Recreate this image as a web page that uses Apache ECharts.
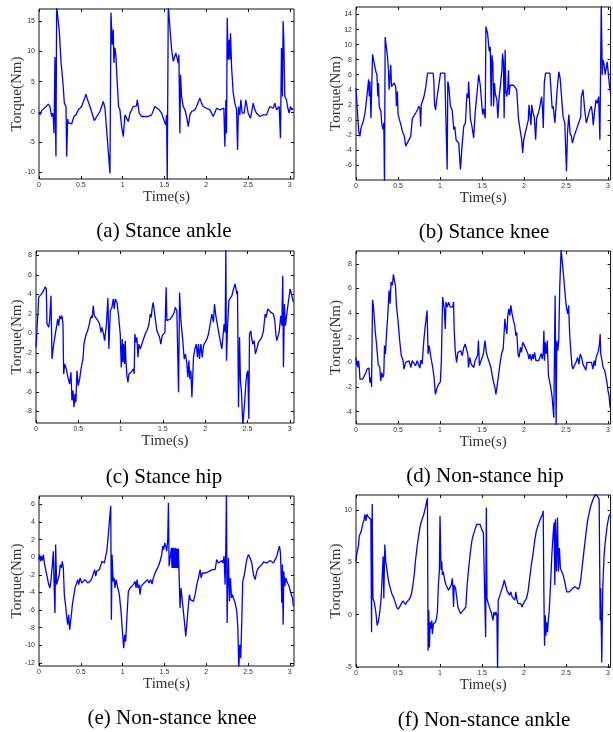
<!DOCTYPE html>
<html>
<head>
<meta charset="utf-8">
<script src="https://cdn.jsdelivr.net/npm/echarts@6/dist/echarts.min.js"></script>
<style>
  html, body { margin: 0; padding: 0; background: #fff; }
  #chart { width: 613px; height: 732px; }
</style>
</head>
<body>
<div id="chart"></div>
<script>
// Joint torque traces, [time (s), torque (Nm)]
const stanceAnkle = [
  [0,0],[0.012,-0.5],[0.032,0.2],[0.112,1.27],[0.131,0.88],[0.151,-0.77],[0.163,-0.22],[0.171,-1.05],
  [0.179,-3.54],[0.183,0.06],[0.191,9.06],[0.199,-3.54],[0.203,-7.4],[0.211,17.5],[0.243,13.3],[0.263,8.3],
  [0.283,5.3],[0.291,3.9],[0.303,1.44],[0.315,1.7],[0.323,0.88],[0.331,-7.4],[0.343,-1.2],[0.351,-1.77],
  [0.390,-2],[0.410,-1.9],[0.418,-0.77],[0.442,-0.5],[0.470,0.33],[0.510,0.88],[0.562,2.93],[0.578,2.1],
  [0.610,0.88],[0.661,-1.44],[0.729,0.06],[0.769,1.71],[0.789,0.6],[0.809,0.33],[0.849,-10.2],[0.861,16.4],
  [0.876,11.1],[0.888,13.6],[0.896,8.07],[0.908,10.6],[0.920,9.2],[0.936,4.75],[0.952,0.88],[0.968,0.33],
  [0.988,-2.43],[1.008,-4.09],[1.028,-0.5],[1.040,-0.77],[1.068,-1.6],[1.088,-0.22],[1.108,0.33],[1.127,0.88],
  [1.147,0.77],[1.167,1.0],[1.175,2.0],[1.187,1.71],[1.199,-0.22],[1.227,-0.77],[1.247,-1.05],[1.307,-0.77],
  [1.347,-0.5],[1.386,0.88],[1.406,0.6],[1.438,0.33],[1.466,-0.22],[1.486,0.06],[1.514,-2.15],[1.526,-0.5],
  [1.534,-11.6],[1.546,17.5],[1.586,10.3],[1.606,8.34],[1.637,9.72],[1.665,8.07],[1.673,9.45],[1.685,-3.54],
  [1.693,6.13],[1.705,2.54],[1.725,0.88],[1.745,0.33],[1.765,-0.77],[1.785,-2.43],[1.805,-0.5],[1.825,0.06],
  [1.845,0.06],[1.865,0.33],[1.884,0.88],[1.924,2.27],[1.944,1.44],[1.964,0.88],[2.004,0.6],[2.044,0.33],
  [2.084,-0.77],[2.124,0.6],[2.163,0.33],[2.211,0.6],[2.223,-5.75],[2.235,2.0],[2.243,-3.54],[2.251,15.5],
  [2.263,8.6],[2.275,11.9],[2.283,8.6],[2.291,13.0],[2.303,7.5],[2.323,3.1],[2.343,1.44],[2.363,0.33],
  [2.375,-6.3],[2.386,0.88],[2.402,-0.5],[2.414,2.0],[2.430,-0.22],[2.454,-0.22],[2.474,2.0],[2.490,2.27],
  [2.502,-0.22],[2.530,-1.05],[2.562,1.44],[2.582,0.33],[2.602,-0.22],[2.622,-0.5],[2.641,-0.77],[2.681,-0.5],
  [2.721,-0.5],[2.761,0.88],[2.801,0.6],[2.821,1.44],[2.841,0.33],[2.873,0.88],[2.888,-4.36],[2.900,10.55],
  [2.912,2.54],[2.920,15.0],[2.928,11.9],[2.940,2.54],[2.960,2.0],[2.972,0.88],[2.992,-0.22],[3.008,0.88],
  [3.024,0.33],[3.040,0.6]
];

const stanceKnee = [
  [0,4.2],[0.012,4.0],[0.032,-1.55],[0.047,-2.2],[0.059,-1.1],[0.087,-0.2],[0.110,1.1],[0.118,0.9],
  [0.138,4.0],[0.150,5.4],[0.158,3.1],[0.166,5.1],[0.178,0.2],[0.185,0.1],[0.197,8.7],[0.217,7.5],
  [0.237,6.4],[0.249,6.0],[0.260,3.1],[0.268,4.9],[0.276,1.8],[0.296,1.1],[0.308,-0.7],[0.323,-1.3],
  [0.331,-0.4],[0.339,-8.5],[0.347,11.0],[0.363,9.5],[0.375,8.4],[0.387,6.6],[0.394,4.0],[0.402,5.3],
  [0.414,7.3],[0.422,4.4],[0.442,4.6],[0.454,4.9],[0.473,4.4],[0.481,1.8],[0.493,3.8],[0.501,0.7],
  [0.521,0.9],[0.540,-0.9],[0.552,-1.55],[0.564,-1.4],[0.576,-2.2],[0.592,-3.5],[0.651,-2.2],[0.671,0.2],
  [0.678,0.4],[0.710,0.9],[0.730,1.3],[0.749,1.8],[0.761,1.5],[0.769,-0.9],[0.777,2.0],[0.797,2.2],
  [0.809,3.1],[0.828,4.2],[0.852,6.2],[0.876,6.2],[0.919,6.2],[0.927,4.9],[0.935,2.0],[0.947,1.3],
  [0.955,2.2],[0.978,4.0],[1.006,6.2],[1.057,6.2],[1.077,6.0],[1.085,-6.6],[1.093,5.1],[1.105,4.4],
  [1.124,1.8],[1.144,1.3],[1.164,-1.3],[1.176,-0.9],[1.191,-2.65],[1.207,-2.9],[1.223,-3.1],[1.243,-6.6],
  [1.262,-3.5],[1.282,-0.9],[1.302,-0.4],[1.321,3.5],[1.333,2.9],[1.341,5.1],[1.361,0.2],[1.381,-0.9],
  [1.400,-2.4],[1.420,1.1],[1.440,3.5],[1.460,6.0],[1.479,4.6],[1.499,1.8],[1.507,0.7],[1.519,1.5],
  [1.538,0.2],[1.546,12.4],[1.566,11.5],[1.586,9.1],[1.598,9.7],[1.609,1.8],[1.617,8.6],[1.629,7.5],
  [1.637,1.8],[1.649,4.9],[1.657,3.5],[1.677,2.65],[1.688,0.2],[1.704,3.1],[1.716,4.2],[1.736,6.6],
  [1.744,8.8],[1.755,7.7],[1.763,0.2],[1.775,9.3],[1.783,3.75],[1.795,3.1],[1.807,4.4],[1.815,6.6],
  [1.822,3.3],[1.834,4.6],[1.874,4.6],[1.913,4.0],[1.933,0.2],[1.953,-1.3],[1.972,-2.65],[1.984,-4.4],
  [1.996,-2.65],[2.032,-0.9],[2.051,0],[2.059,2.0],[2.071,1.8],[2.083,-0.7],[2.091,2.0],[2.107,0.9],
  [2.122,0.4],[2.138,-2.65],[2.150,0.2],[2.170,0.9],[2.189,1.8],[2.209,3.1],[2.221,1.3],[2.229,-1.1],
  [2.241,4.9],[2.256,6.2],[2.308,6.2],[2.320,6.0],[2.335,1.5],[2.347,1.8],[2.367,-0.4],[2.394,4.0],
  [2.414,6.4],[2.430,5.5],[2.446,3.1],[2.465,0.4],[2.485,-0.4],[2.505,-6.85],[2.517,-1.8],[2.533,0.7],
  [2.548,-1.8],[2.564,-2.2],[2.576,-3.1],[2.596,-2.2],[2.623,-1.3],[2.651,-0.4],[2.675,0.4],[2.682,3.1],
  [2.702,4.0],[2.722,1.3],[2.742,-0.4],[2.761,0.4],[2.781,1.3],[2.801,1.8],[2.813,0.9],[2.824,-0.7],
  [2.840,1.1],[2.856,2.65],[2.872,2.2],[2.888,3.1],[2.903,-2.65],[2.919,15.5],[2.931,6.0],[2.939,8.0],
  [2.951,7.5],[2.966,6.0],[2.990,7.7],[3.006,7.7],[3.018,4.4],[3.030,3.5]
];

const stanceHip = [
  [0,-1.44],[0.012,0.44],[0.024,2.32],[0.031,3.69],[0.043,3.52],[0.051,3.86],[0.071,4.1],[0.098,4.55],
  [0.110,4.79],[0.122,4.55],[0.130,0.96],[0.150,0.62],[0.161,1.3],[0.177,3.86],[0.189,-2.63],[0.201,-2.8],
  [0.209,-1.1],[0.228,-0.07],[0.248,0.96],[0.256,1.47],[0.268,0.79],[0.280,1.81],[0.295,1.47],[0.307,1.81],
  [0.319,0.96],[0.327,-4.17],[0.339,-3.15],[0.358,-3.66],[0.378,-4.51],[0.398,-5.2],[0.413,-4.0],[0.425,-6.9],
  [0.437,-5.88],[0.449,-7.59],[0.461,-6.22],[0.472,-7.08],[0.484,-3.83],[0.500,-5.37],[0.516,-4.68],[0.535,-3.49],
  [0.555,-2.63],[0.567,-1.1],[0.579,-0.58],[0.594,-0.07],[0.610,0.27],[0.626,0.79],[0.642,1.47],[0.657,1.81],
  [0.665,1.57],[0.677,2.84],[0.689,1.81],[0.709,1.64],[0.732,1.3],[0.752,0.96],[0.768,0.1],[0.780,0.62],
  [0.799,-0.07],[0.811,-0.75],[0.831,0.79],[0.850,3.62],[0.862,-1.6],[0.878,2.32],[0.898,2.67],[0.913,3.52],
  [0.925,2.5],[0.937,3.52],[0.957,3.18],[0.976,1.81],[0.996,-0.07],[1.008,-3.49],[1.020,-0.58],[1.028,-2.97],
  [1.035,-1.1],[1.047,-3.15],[1.055,-0.75],[1.063,-2.8],[1.075,-4.34],[1.087,-5.03],[1.098,-4.17],[1.122,-4.0],
  [1.154,-3.66],[1.161,-4.17],[1.169,-0.07],[1.181,-0.92],[1.193,-0.41],[1.205,-2.46],[1.217,-1.1],[1.232,-1.6],
  [1.252,-1.44],[1.291,-0.07],[1.319,0.44],[1.335,0.96],[1.350,1.98],[1.362,1.64],[1.374,2.67],[1.386,3.18],
  [1.398,2.32],[1.413,1.3],[1.429,0.27],[1.445,0.44],[1.461,-0.41],[1.476,-1.1],[1.492,-0.24],[1.508,-0.07],
  [1.524,0.1],[1.539,4.72],[1.547,1.3],[1.587,1.47],[1.614,1.81],[1.634,2.15],[1.646,2.67],[1.665,2.32],
  [1.685,-6.05],[1.697,4.2],[1.713,1.3],[1.732,-0.41],[1.752,-2.63],[1.768,-2.12],[1.783,-3.15],[1.795,-4.51],
  [1.807,-2.8],[1.819,-4.68],[1.831,-3.83],[1.843,-6.56],[1.862,-2.46],[1.878,-1.6],[1.894,-1.1],[1.909,-2.46],
  [1.921,-1.1],[1.933,-2.63],[1.949,-1.1],[1.965,-2.46],[1.980,-1.26],[2.000,-1.1],[2.020,-0.58],[2.039,-0.07],
  [2.059,0.96],[2.079,1.98],[2.098,1.13],[2.110,3.01],[2.126,1.81],[2.146,0.79],[2.177,-0.75],[2.197,-1.6],
  [2.209,-0.41],[2.224,0.96],[2.236,0.1],[2.244,8.6],[2.252,-2.8],[2.264,0.62],[2.280,3.35],[2.295,3.18],
  [2.315,3.86],[2.335,4.55],[2.354,5.06],[2.374,4.03],[2.382,4.38],[2.394,-7.59],[2.406,-0.41],[2.417,-4.85],
  [2.429,-6.05],[2.445,-9.4],[2.465,-7.25],[2.480,-5.2],[2.492,-4.17],[2.504,-3.83],[2.516,-8.79],[2.524,-0.07],
  [2.539,0.27],[2.551,-0.58],[2.563,-1.1],[2.579,-0.75],[2.594,-2.12],[2.610,-1.6],[2.630,-0.92],[2.650,-0.75],
  [2.669,-0.41],[2.689,0.27],[2.709,1.98],[2.720,1.64],[2.740,2.5],[2.756,2.32],[2.776,2.15],[2.807,1.98],
  [2.823,1.3],[2.835,-0.07],[2.846,-0.75],[2.858,-0.58],[2.874,0.1],[2.894,1.81],[2.906,0.79],[2.917,5.91],
  [2.925,-3.49],[2.937,3.01],[2.949,0.79],[2.965,1.98],[2.980,3.01],[3.004,4.55],[3.024,4.38],[3.043,3.18]
];

const nonStanceHip = [
  [0,0.41],[0.008,-0.27],[0.016,0.14],[0.024,-0.41],[0.031,0.14],[0.039,-0.41],[0.047,-1.36],[0.079,-1.36],
  [0.098,-1.22],[0.118,-0.82],[0.130,-0.54],[0.142,-0.68],[0.154,-0.46],[0.165,-1.63],[0.177,-1.22],[0.185,-1.99],
  [0.197,5.09],[0.209,4.49],[0.228,2.59],[0.244,1.5],[0.264,-0.14],[0.283,-0.41],[0.295,-1.5],[0.307,-0.82],
  [0.319,-1.22],[0.331,-0.95],[0.339,1.36],[0.350,0.68],[0.362,2.18],[0.378,3.81],[0.394,5.85],[0.406,4.76],
  [0.417,6.53],[0.433,6.26],[0.445,7.16],[0.457,6.67],[0.469,6.26],[0.480,4.76],[0.500,3.4],[0.520,1.77],
  [0.539,0.54],[0.559,0.19],[0.571,-0.54],[0.591,0],[0.610,0],[0.630,0.14],[0.642,0.27],[0.654,-0.41],
  [0.669,0.14],[0.689,0.19],[0.709,-0.27],[0.728,0.14],[0.748,0.19],[0.760,-0.46],[0.772,0.19],[0.787,-0.14],
  [0.807,1.77],[0.827,3.13],[0.846,4.22],[0.858,0.68],[0.870,1.36],[0.886,1.36],[0.898,0.14],[0.913,-0.41],
  [0.929,-1.22],[0.945,-2.59],[0.965,-2.04],[0.984,-1.77],[1.004,-1.58],[1.016,0.14],[1.031,5.31],[1.051,4.35],
  [1.063,2.72],[1.071,4.9],[1.087,4.49],[1.102,4.9],[1.122,4.49],[1.150,4.49],[1.161,4.9],[1.169,2.59],
  [1.181,0.95],[1.197,0],[1.213,0.82],[1.228,0.68],[1.248,0.95],[1.264,0.54],[1.283,1.22],[1.299,1.5],
  [1.319,1.63],[1.331,0.68],[1.339,-0.41],[1.354,0.41],[1.370,-0.14],[1.386,0],[1.402,-0.41],[1.417,0.14],
  [1.437,0.41],[1.449,0.68],[1.457,1.77],[1.469,-0.27],[1.480,0],[1.496,0.27],[1.516,0.68],[1.535,1.77],
  [1.551,0.82],[1.567,0.41],[1.583,0.27],[1.606,-0.41],[1.622,-1.09],[1.638,-1.63],[1.654,-2.04],[1.665,-2.59],
  [1.677,-2.04],[1.693,-1.22],[1.713,-0.14],[1.732,0.68],[1.752,1.09],[1.772,3.54],[1.783,2.86],[1.795,2.31],
  [1.807,3.81],[1.819,4.35],[1.831,3.81],[1.843,4.63],[1.858,3.95],[1.874,3.4],[1.890,2.99],[1.902,2.18],
  [1.913,2.45],[1.929,0.68],[1.941,0.41],[1.957,1.22],[1.969,0.82],[1.984,1.63],[2.000,1.5],[2.016,1.22],
  [2.031,0.95],[2.047,0.68],[2.059,0.27],[2.071,0.68],[2.087,0.14],[2.102,0.68],[2.114,0.27],[2.126,0.82],
  [2.142,0.14],[2.157,0.27],[2.173,0.14],[2.189,0.27],[2.205,0.73],[2.217,0.27],[2.228,0.68],[2.236,2.59],
  [2.244,0.14],[2.252,1.63],[2.264,0.68],[2.276,1.77],[2.291,-1.09],[2.315,-1.9],[2.335,-2.86],[2.354,-4.49],
  [2.370,5.44],[2.382,-5.2],[2.390,1.77],[2.402,0.95],[2.413,1.77],[2.425,6.12],[2.441,9.2],[2.453,8.3],
  [2.472,6.94],[2.488,5.58],[2.504,4.49],[2.520,3.95],[2.531,4.63],[2.543,2.31],[2.559,0.68],[2.571,-0.27],
  [2.583,-0.54],[2.598,-0.27],[2.618,0],[2.638,0.41],[2.654,-0.14],[2.669,0.68],[2.685,0.41],[2.701,-0.14],
  [2.717,0],[2.736,-0.63],[2.748,0],[2.776,0],[2.803,0],[2.819,-0.54],[2.835,0.14],[2.846,-0.27],
  [2.858,0.41],[2.874,0.27],[2.886,0.95],[2.898,1.5],[2.906,2.31],[2.913,0.68],[2.925,0.27],[2.941,-0.41],
  [2.961,-0.68],[2.984,-1.5],[3.000,-2.31],[3.012,-2.72],[3.024,-3.67]
];

const nonStanceKnee = [
  [0,-0.27],[0.008,0.3],[0.016,-0.46],[0.028,0.11],[0.040,-0.38],[0.052,0.3],[0.064,-0.65],[0.084,-1.6],
  [0.100,-2.35],[0.116,-3.11],[0.132,-3.49],[0.144,-2.54],[0.160,-0.84],[0.172,0.68],[0.180,-2.92],[0.191,-6.34],
  [0.199,1.44],[0.211,-3.11],[0.227,-2.92],[0.243,-1.97],[0.255,-0.84],[0.267,-1.22],[0.279,-0.46],[0.291,-1.22],
  [0.303,-4.25],[0.319,-5.58],[0.331,-6.72],[0.343,-7.67],[0.355,-6.53],[0.367,-8.24],[0.383,-6.91],[0.399,-5.39],
  [0.415,-4.44],[0.431,-3.49],[0.447,-3.3],[0.463,-2.54],[0.475,-3.11],[0.491,-2.35],[0.511,-2.92],[0.531,-2.73],
  [0.550,-2.54],[0.570,-2.35],[0.582,-2.92],[0.598,-2.73],[0.618,-2.66],[0.634,-2.35],[0.650,-2.16],[0.666,-1.41],
  [0.678,-2.16],[0.690,-1.6],[0.706,-1.79],[0.722,-1.41],[0.738,-1.22],[0.754,-0.46],[0.770,-0.27],[0.782,-0.65],
  [0.794,-0.08],[0.810,0.68],[0.826,2.2],[0.842,4.1],[0.858,5.81],[0.866,-7.1],[0.874,0.3],[0.886,-2.73],
  [0.898,-2.35],[0.909,-3.49],[0.921,-2.54],[0.941,-2.73],[0.961,-4.25],[0.981,-6.15],[1.001,-8.81],[1.013,-10.33],
  [1.025,-8.81],[1.037,-9.57],[1.053,-6.53],[1.069,-3.87],[1.089,-3.49],[1.109,-3.3],[1.129,-3.11],[1.149,-2.73],
  [1.161,-3.49],[1.173,-2.54],[1.185,-3.49],[1.197,-3.11],[1.209,-4.25],[1.221,-3.3],[1.237,-3.3],[1.257,-2.92],
  [1.276,-2.73],[1.296,-2.54],[1.316,-2.92],[1.336,-2.54],[1.352,-3.04],[1.368,-2.35],[1.388,-1.79],[1.408,-1.41],
  [1.428,-1.03],[1.448,-0.46],[1.468,0.3],[1.480,1.25],[1.492,0.87],[1.504,1.63],[1.516,1.25],[1.528,0.68],
  [1.540,2.01],[1.548,6.19],[1.556,-1.03],[1.576,-1.14],[1.584,1.06],[1.590,-1.2],[1.596,1.06],[1.602,-1.22],
  [1.608,1.06],[1.614,-1.22],[1.620,1.0],[1.626,-1.22],[1.631,1.06],[1.637,-1.22],[1.643,1.0],[1.649,-1.22],
  [1.655,0.99],[1.661,-1.22],[1.667,0.95],[1.675,0.87],[1.687,-5.77],[1.699,-3.49],[1.711,-4.63],[1.727,-6.15],
  [1.739,-7.29],[1.755,-9.0],[1.771,-7.29],[1.787,-5.39],[1.799,-4.25],[1.811,-4.82],[1.827,-4.63],[1.847,-5.01],
  [1.867,-4.25],[1.887,-3.11],[1.907,-2.35],[1.927,-1.41],[1.939,-2.35],[1.955,-1.79],[1.974,-1.97],[1.994,-1.79],
  [2.014,-1.79],[2.034,-1.6],[2.054,-1.41],[2.074,-1.41],[2.094,-1.22],[2.106,-1.41],[2.126,-0.27],[2.146,-0.65],
  [2.166,-0.46],[2.186,-0.38],[2.198,-0.65],[2.214,0.11],[2.226,-3.11],[2.234,0.87],[2.242,7.2],[2.250,-7.48],
  [2.258,-2.73],[2.266,-0.08],[2.278,-5.01],[2.290,-2.35],[2.302,-4.63],[2.314,-4.25],[2.326,-4.63],[2.346,-5.2],
  [2.366,-6.15],[2.378,-8.05],[2.390,-12.6],[2.401,-9.95],[2.413,-11.47],[2.425,-7.29],[2.437,-2.73],[2.453,-2.16],
  [2.469,-1.22],[2.485,-0.27],[2.505,0.3],[2.525,-0.08],[2.545,-0.65],[2.565,-1.97],[2.585,-2.54],[2.605,-1.6],
  [2.625,-1.22],[2.645,-1.03],[2.665,-0.84],[2.685,-0.53],[2.705,-0.46],[2.724,-0.65],[2.744,-0.46],[2.764,-0.38],
  [2.784,-0.53],[2.804,-0.65],[2.824,-0.27],[2.844,0.11],[2.864,0.87],[2.876,1.25],[2.888,0.49],[2.896,-1.97],
  [2.904,-5.2],[2.912,-0.84],[2.920,-7.67],[2.928,-1.6],[2.940,-3.3],[2.952,-2.35],[2.972,-2.92],[2.992,-3.3],
  [3.012,-4.06],[3.032,-4.63],[3.043,-5.58]
];

const nonStanceAnkle = [
  [0,5.1],[0.008,5.74],[0.020,6.23],[0.031,6.71],[0.039,7.52],[0.051,7.35],[0.063,8.0],[0.079,8.65],
  [0.094,9.03],[0.106,9.61],[0.118,8.97],[0.130,9.61],[0.146,9.35],[0.161,9.19],[0.177,9.13],[0.185,-1.68],
  [0.193,10.58],[0.201,1.55],[0.217,1.23],[0.236,0.26],[0.252,-1.03],[0.268,-0.55],[0.283,0.26],[0.299,1.55],
  [0.311,3.48],[0.323,5.58],[0.331,1.55],[0.343,6.71],[0.354,5.1],[0.366,4.45],[0.382,3.48],[0.398,2.84],
  [0.409,2.52],[0.425,2.03],[0.445,1.71],[0.465,1.23],[0.484,0.74],[0.500,0.52],[0.520,0.74],[0.539,1.06],
  [0.559,1.32],[0.575,1.23],[0.591,0.97],[0.606,1.23],[0.622,1.16],[0.642,1.55],[0.661,2.03],[0.677,2.84],
  [0.693,3.81],[0.709,5.26],[0.728,6.55],[0.748,7.68],[0.768,8.65],[0.787,9.13],[0.807,9.61],[0.827,10.26],
  [0.839,10.74],[0.850,11.16],[0.858,-3.45],[0.866,0.42],[0.874,-3.13],[0.882,-0.71],[0.894,-1.35],[0.902,-0.55],
  [0.909,-1.84],[0.921,-0.87],[0.933,-1.03],[0.945,-0.71],[0.957,-0.39],[0.969,0.26],[0.980,2.84],[0.992,4.13],
  [1.000,9.45],[1.012,4.29],[1.020,5.1],[1.028,3.81],[1.039,4.13],[1.055,3.32],[1.071,2.84],[1.087,2.68],
  [1.102,2.35],[1.118,2.52],[1.134,2.84],[1.146,3.48],[1.154,2.52],[1.161,0.74],[1.169,2.84],[1.185,2.52],
  [1.201,1.55],[1.213,0.74],[1.228,0.58],[1.244,0.1],[1.260,0.1],[1.276,0.42],[1.291,0.58],[1.307,0.74],
  [1.323,2.84],[1.339,4.29],[1.358,5.74],[1.378,7.03],[1.398,7.68],[1.417,8.16],[1.437,8.65],[1.457,8.81],
  [1.476,8.65],[1.496,8.16],[1.516,7.84],[1.535,7.84],[1.543,-2.16],[1.551,10.26],[1.559,1.55],[1.575,1.06],
  [1.594,0.58],[1.614,0.1],[1.630,-0.55],[1.642,0.26],[1.654,-0.06],[1.665,0.26],[1.677,-0.06],[1.685,-5.3],
  [1.693,1.39],[1.713,1.87],[1.732,2.35],[1.752,2.84],[1.764,3.32],[1.780,2.84],[1.795,2.35],[1.811,2.19],
  [1.827,1.87],[1.843,2.19],[1.858,1.71],[1.874,1.55],[1.890,1.39],[1.902,2.19],[1.913,1.55],[1.929,1.06],
  [1.945,0.9],[1.961,1.06],[1.976,0.74],[1.992,1.06],[2.008,1.23],[2.028,1.55],[2.047,2.19],[2.067,3.48],
  [2.087,4.77],[2.106,5.74],[2.126,7.03],[2.146,8.0],[2.165,8.48],[2.185,8.97],[2.205,9.35],[2.220,9.61],
  [2.228,9.94],[2.236,2.19],[2.244,-2.97],[2.252,-0.06],[2.260,-2.0],[2.268,-0.71],[2.280,-1.68],[2.287,-0.71],
  [2.299,0.26],[2.315,2.84],[2.331,5.74],[2.346,7.68],[2.358,8.81],[2.366,2.84],[2.374,9.13],[2.386,4.13],
  [2.398,9.29],[2.409,4.13],[2.421,6.39],[2.433,4.45],[2.449,4.29],[2.465,3.81],[2.480,3.32],[2.496,3.16],
  [2.508,2.19],[2.520,2.03],[2.539,2.19],[2.559,2.13],[2.579,2.52],[2.591,2.35],[2.606,2.68],[2.626,2.52],
  [2.646,2.45],[2.661,2.68],[2.677,3.48],[2.697,4.94],[2.717,6.39],[2.736,7.68],[2.756,8.97],[2.776,9.77],
  [2.795,10.42],[2.815,10.9],[2.835,11.29],[2.854,11.55],[2.874,11.39],[2.894,11.06],[2.906,-0.55],[2.913,2.52],
  [2.925,-4.58],[2.937,2.52],[2.953,5.74],[2.972,7.35],[2.992,8.65],[3.012,9.45],[3.024,9.61]
];

// Tick values
const timeTicks = [0, 0.5, 1, 1.5, 2, 2.5, 3];
const ankleTicks = [-10, -5, 0, 5, 10, 15];
const kneeTicks = [-6, -4, -2, 0, 2, 4, 6, 8, 10, 12, 14];
const hipTicks = [-8, -6, -4, -2, 0, 2, 4, 6, 8];
const nsHipTicks = [-4, -2, 0, 2, 4, 6, 8];
const nsKneeTicks = [-12, -10, -8, -6, -4, -2, 0, 2, 4, 6];
const nsAnkleTicks = [-5, 0, 5, 10];

// Axis extents [min, max]
const ankleRange = [-11.1, 17];
const kneeRange = [-8, 15];
const hipRange = [-9.2, 8.45];
const nsHipRange = [-5, 9.05];
const nsKneeRange = [-12.35, 6.95];
const nsAnkleRange = [-5, 11.45];
const timeMaxLeft = 3.05;
const timeMaxRight = 3.03;

const captions = ['(a) Stance ankle', '(b) Stance knee', '(c) Stance hip',
                  '(d) Non-stance hip', '(e) Non-stance knee', '(f) Non-stance ankle'];
const yTitle = 'Torque(Nm)';
const xTitle = 'Time(s)';

const panels = [
  { data: stanceAnkle,    ticks: ankleTicks,   range: ankleRange,   tmax: timeMaxLeft },
  { data: stanceKnee,     ticks: kneeTicks,    range: kneeRange,    tmax: timeMaxRight },
  { data: stanceHip,      ticks: hipTicks,     range: hipRange,     tmax: timeMaxLeft },
  { data: nonStanceHip,   ticks: nsHipTicks,   range: nsHipRange,   tmax: timeMaxRight },
  { data: nonStanceKnee,  ticks: nsKneeTicks,  range: nsKneeRange,  tmax: timeMaxLeft },
  { data: nonStanceAnkle, ticks: nsAnkleTicks, range: nsAnkleRange, tmax: timeMaxRight }
];

// Page layout: plot boxes, y-title centre x, caption centre
const boxes = [
  { left: 39,  top: 9,   width: 255, height: 170, yTitleX: 17,  capX: 164, capY: 231 },
  { left: 356, top: 7,   width: 256, height: 173, yTitleX: 336, capX: 484, capY: 232 },
  { left: 36,  top: 251, width: 258, height: 172, yTitleX: 17,  capX: 164, capY: 477 },
  { left: 356, top: 251, width: 256, height: 173, yTitleX: 336, capX: 485, capY: 476 },
  { left: 39,  top: 496, width: 255, height: 170, yTitleX: 17,  capX: 172, capY: 718 },
  { left: 356, top: 495, width: 256, height: 172, yTitleX: 336, capX: 484, capY: 720 }
];

const SANS = 'Liberation Sans, Arial, sans-serif';
const SERIF = 'Liberation Serif, Times New Roman, serif';
const FRAME = '#111';
const TEXT = '#333';

const grid = [], xAxis = [], yAxis = [], series = [], graphic = [];

panels.forEach((p, i) => {
  const b = boxes[i];
  grid.push({
    left: b.left, top: b.top, width: b.width, height: b.height,
    show: true, borderColor: FRAME, borderWidth: 1, backgroundColor: 'transparent'
  });

  const tickStyle = { show: true, inside: true, length: 3, lineStyle: { color: FRAME, width: 1 } };
  const common = {
    type: 'value', gridIndex: i, splitLine: { show: false },
    axisLine: { show: false, onZero: false }
  };

  // bottom axis with labels
  xAxis.push(Object.assign({}, common, {
    position: 'bottom', min: 0, max: p.tmax,
    axisTick: Object.assign({}, tickStyle, { customValues: timeTicks }),
    axisLabel: { customValues: timeTicks, fontSize: 7, color: TEXT, fontFamily: SANS, margin: 3 },
    name: xTitle, nameLocation: 'middle', nameGap: 10.5, nameMoveOverlap: false,
    nameTextStyle: { fontFamily: SERIF, fontSize: 15, color: TEXT }
  }));
  // top axis: ticks only
  xAxis.push(Object.assign({}, common, {
    position: 'top', min: 0, max: p.tmax,
    axisTick: Object.assign({}, tickStyle, { customValues: timeTicks }),
    axisLabel: { show: false }
  }));

  // left axis with labels
  yAxis.push(Object.assign({}, common, {
    position: 'left', min: p.range[0], max: p.range[1],
    axisTick: Object.assign({}, tickStyle, { customValues: p.ticks }),
    axisLabel: { customValues: p.ticks, fontSize: 7, color: TEXT, fontFamily: SANS, margin: 4 },
    name: yTitle, nameLocation: 'middle', nameRotate: 90, nameMoveOverlap: false,
    nameGap: b.left - b.yTitleX - 7.5,
    nameTextStyle: { fontFamily: SERIF, fontSize: 15, color: TEXT }
  }));
  // right axis: ticks only
  yAxis.push(Object.assign({}, common, {
    position: 'right', min: p.range[0], max: p.range[1],
    axisTick: Object.assign({}, tickStyle, { customValues: p.ticks }),
    axisLabel: { show: false }
  }));

  series.push({
    type: 'line', xAxisIndex: 2 * i, yAxisIndex: 2 * i,
    data: p.data, showSymbol: false, symbol: 'none', clip: true,
    lineStyle: { color: '#0000ff', width: 1.3 }, silent: true
  });

  graphic.push({
    type: 'text', x: b.capX, y: b.capY,
    style: { text: captions[i], font: '21px ' + SERIF, fill: '#000',
             textAlign: 'center', textVerticalAlign: 'middle' }
  });
});

const chart = echarts.init(document.getElementById('chart'), null, { renderer: 'canvas' });
chart.setOption({
  animation: false,
  backgroundColor: '#fff',
  grid, xAxis, yAxis, series, graphic
});
</script>
</body>
</html>
